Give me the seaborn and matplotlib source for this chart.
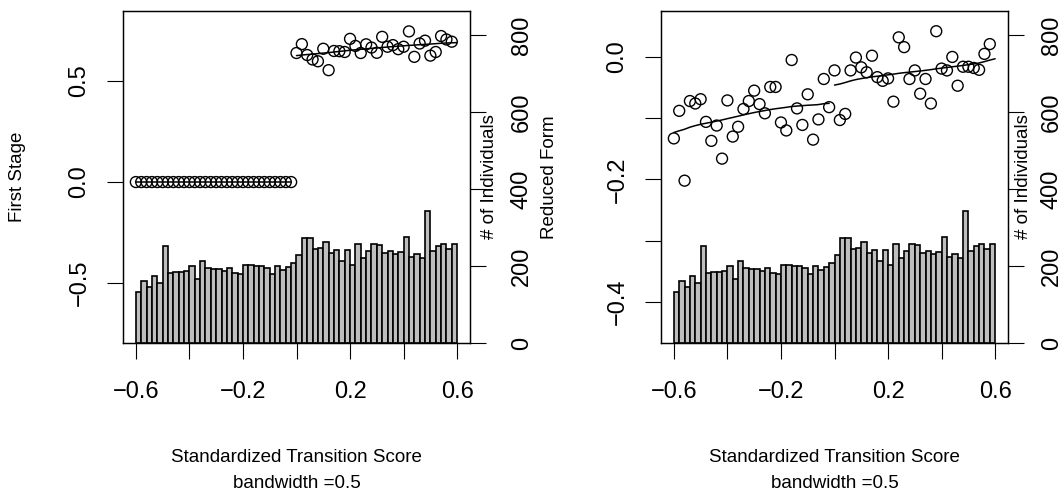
import numpy as np
import pandas as pd
import matplotlib
matplotlib.use("Agg")
import matplotlib.pyplot as plt
import seaborn as sns

# left edge of each 0.02 wide cell of the standardized transition score
score_bins = np.round(np.linspace(-0.6, 0.58, 60), 2)
bin_edges = np.round(np.linspace(-0.6, 0.6, 61), 2)

# number of individuals in each cell (same sample in both panels)
n_individuals = [133, 162, 146, 173, 157, 252, 182, 184, 184, 188,
                 201, 166, 214, 196, 193, 193, 187, 196, 183, 179,
                 203, 203, 199, 199, 196, 178, 201, 189, 197, 207,
                 229, 272, 272, 245, 247, 263, 233, 242, 213, 242,
                 203, 256, 221, 240, 257, 254, 234, 238, 232, 235,
                 275, 224, 231, 220, 342, 239, 251, 256, 243, 258]

first_stage = [0.0, 0.0, 0.0, 0.0, 0.0, 0.0, 0.0, 0.0, 0.0, 0.0,
               0.0, 0.0, 0.0, 0.0, 0.0, 0.0, 0.0, 0.0, 0.0, 0.0,
               0.0, 0.0, 0.0, 0.0, 0.0, 0.0, 0.0, 0.0, 0.0, 0.0,
               0.639, 0.683, 0.629, 0.607, 0.598, 0.660, 0.554, 0.649, 0.648, 0.644,
               0.709, 0.674, 0.639, 0.682, 0.666, 0.640, 0.719, 0.670, 0.678, 0.658,
               0.670, 0.746, 0.620, 0.686, 0.700, 0.626, 0.644, 0.723, 0.706, 0.695]

reduced_form = [-0.133, -0.088, -0.202, -0.072, -0.076, -0.069, -0.106, -0.137, -0.112, -0.166,
                -0.071, -0.130, -0.114, -0.085, -0.072, -0.055, -0.077, -0.092, -0.049, -0.049,
                -0.107, -0.120, -0.005, -0.084, -0.111, -0.061, -0.135, -0.102, -0.036, -0.082,
                -0.022, -0.103, -0.093, -0.022, -0.001, -0.017, -0.025, 0.002, -0.033, -0.039,
                -0.035, -0.073, 0.032, 0.016, -0.036, -0.022, -0.060, -0.036, -0.076, 0.042,
                -0.019, -0.022, 0.000, -0.047, -0.016, -0.016, -0.018, -0.021, 0.005, 0.021]

bandwidth = 0.5


def local_linear(x, y, grid, h):
    # triangular kernel local linear fit, one side of the cutoff
    out = []
    for x0 in grid:
        w = np.clip(1 - np.abs(x - x0) / h, 0, None)
        X = np.column_stack([np.ones_like(x), x - x0])
        XtW = X.T * w
        beta = np.linalg.solve(XtW @ X, XtW @ y)
        out.append(beta[0])
    return np.array(out)


sns.set_style("ticks", rc={"axes.edgecolor": "black", "xtick.color": "black",
                           "ytick.color": "black", "text.color": "black",
                           "axes.labelcolor": "black"})
plt.rcParams["font.family"] = ["Liberation Sans", "DejaVu Sans"]

W, H = 1064, 492
fig = plt.figure(figsize=(W / 100, H / 100), dpi=100)


def box(l, r, t, b):
    return [l / W, (H - b) / H, (r - l) / W, (b - t) / H]


panels = [
    dict(rect=box(123, 470, 11, 343), y=first_stage, ylabel="First Stage",
         ylim=(-0.797, 0.847), yticks=[-0.5, 0.0, 0.5],
         ylabels=["\u22120.5", "0.0", "0.5"], lab_x=-0.303, cnt_x=1.055, cnt_pad=18),
    dict(rect=box(661, 1008, 11, 343), y=reduced_form, ylabel="Reduced Form",
         ylim=(-0.467, 0.075), yticks=[-0.4, -0.3, -0.2, -0.1, 0.0],
         ylabels=["\u22120.4", "", "\u22120.2", "", "0.0"], lab_x=-0.32, cnt_x=1.046, cnt_pad=12),
]

x = np.array(score_bins)
counts = pd.DataFrame({"mid": x + 0.01, "n": n_individuals})
for p in panels:
    ax = fig.add_axes(p["rect"])
    axt = ax.twinx()

    sns.histplot(data=counts, x="mid", weights="n", bins=list(bin_edges), ax=axt,
                 color="#BEBEBE", edgecolor="black", linewidth=1.2, alpha=1)

    df = pd.DataFrame({"score": x, "y": p["y"]})
    sns.scatterplot(data=df, x="score", y="y", ax=ax, marker="o", s=62,
                    facecolors="none", edgecolor="black", linewidth=1.0)

    yv = np.array(p["y"])
    for side_pts, side_grid in [(x < 0, bin_edges < 0), (x >= 0, bin_edges >= 0)]:
        g = bin_edges[side_grid]
        fit = local_linear(x[side_pts], yv[side_pts], g, bandwidth)
        sns.lineplot(x=g, y=fit, ax=ax, color="black", linewidth=1.1)

    ax.set_xlim(-0.648, 0.648)
    ax.set_ylim(*p["ylim"])
    axt.set_ylim(0, 862)

    ax.set_xticks([-0.6, -0.4, -0.2, 0.0, 0.2, 0.4, 0.6])
    ax.set_xticklabels(["\u22120.6", "", "\u22120.2", "", "0.2", "", "0.6"])
    ax.set_yticks(p["yticks"])
    ax.set_yticklabels(p["ylabels"], rotation=90, va="center")
    axt.set_yticks([0, 200, 400, 600, 800])
    axt.set_yticklabels(["0", "200", "400", "600", "800"], rotation=90, va="center")

    ax.tick_params(axis="both", length=11.5, width=0.8, labelsize=17)
    ax.tick_params(axis="y", pad=12)
    ax.tick_params(axis="x", pad=16)
    axt.tick_params(axis="y", length=11.5, width=0.8, labelsize=17, pad=p["cnt_pad"])

    for a in (ax, axt):
        for s in a.spines.values():
            s.set_linewidth(0.9)

    ax.set_ylabel(p["ylabel"], fontsize=13.5)
    ax.yaxis.set_label_coords(p["lab_x"], 0.5)
    ax.yaxis.label.set_va("center")
    axt.set_ylabel("# of Individuals", fontsize=13.5)
    axt.yaxis.set_label_coords(p["cnt_x"], 0.5)
    axt.yaxis.label.set_va("center")

    ax.set_xlabel("Standardized Transition Score", fontsize=13.5)
    ax.xaxis.set_label_coords(0.5, -0.358)
    ax.xaxis.label.set_va("baseline")
    ax.text(0.5, -0.437, "bandwidth =" + str(bandwidth), transform=ax.transAxes,
            ha="center", va="baseline", fontsize=13.5)

fig.savefig("out.png", dpi=100)
